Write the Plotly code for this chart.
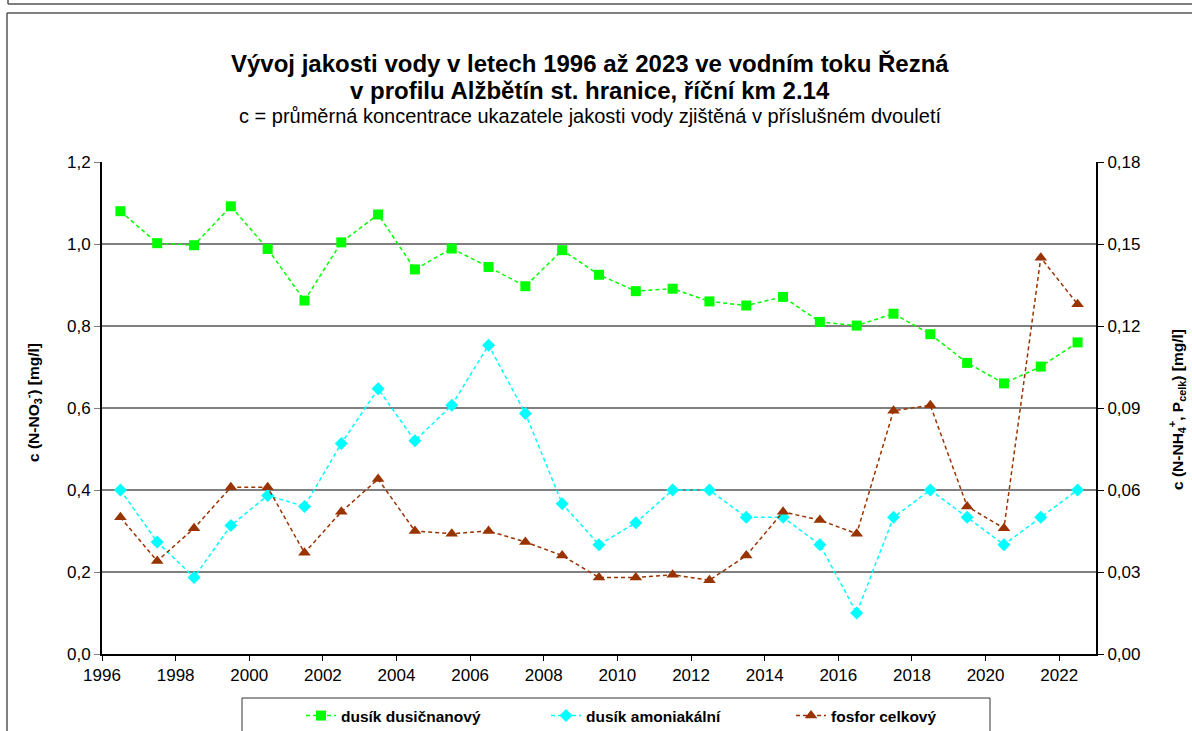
import plotly.graph_objects as go

years = [1996.5 + i for i in range(27)]

dusik_dusicnanovy = [1.080, 1.002, 0.997, 1.092, 0.988, 0.862, 1.004, 1.072, 0.938, 0.989,
                     0.944, 0.897, 0.985, 0.925, 0.885, 0.891, 0.860, 0.850, 0.871, 0.810,
                     0.801, 0.830, 0.780, 0.710, 0.660, 0.701, 0.760]
dusik_amoniakalni = [0.060, 0.041, 0.028, 0.047, 0.058, 0.054, 0.077, 0.097, 0.078, 0.091,
                     0.113, 0.088, 0.055, 0.040, 0.048, 0.060, 0.060, 0.050, 0.050, 0.040,
                     0.015, 0.050, 0.060, 0.050, 0.040, 0.050, 0.060]
fosfor_celkovy = [0.050, 0.034, 0.046, 0.061, 0.061, 0.037, 0.052, 0.064, 0.045, 0.044,
                  0.045, 0.041, 0.036, 0.028, 0.028, 0.029, 0.027, 0.036, 0.052, 0.049,
                  0.044, 0.089, 0.091, 0.054, 0.046, 0.145, 0.128]

FONT = "Liberation Sans, Arial, sans-serif"
W, H = 1192, 731
L, R, T, B = 102, 96, 162, 77
pw = W - L - R
ph = H - T - B


def px_x(px):
    return (px - L) / pw


def px_y(py):
    return (H - B - py) / ph


fig = go.Figure()
dash = "4px,3px"
fig.add_trace(go.Scatter(x=years, y=dusik_dusicnanovy, name="dusík dusičnanový", mode="lines+markers",
                         line=dict(color="#00FF00", width=1.5, dash=dash),
                         marker=dict(symbol="square", size=10, color="#00FF00")))
fig.add_trace(go.Scatter(x=years, y=dusik_amoniakalni, name="dusík amoniakální", mode="lines+markers",
                         yaxis="y2",
                         line=dict(color="#00FFFF", width=1.5, dash=dash),
                         marker=dict(symbol="diamond", size=10, color="#00FFFF")))
fig.add_trace(go.Scatter(x=years, y=fosfor_celkovy, name="fosfor celkový", mode="lines+markers",
                         yaxis="y2",
                         line=dict(color="#993300", width=1.5, dash=dash),
                         marker=dict(symbol="triangle-up", size=11, color="#993300")))

shapes = [
    # outer frames
    dict(type="line", xref="paper", yref="paper", x0=px_x(8), x1=px_x(1200), y0=px_y(4), y1=px_y(4),
         line=dict(color="#555555", width=1.5)),
    dict(type="line", xref="paper", yref="paper", x0=px_x(8), x1=px_x(8), y0=px_y(-5), y1=px_y(4),
         line=dict(color="#555555", width=1.5)),
    dict(type="line", xref="paper", yref="paper", x0=px_x(7), x1=px_x(1200), y0=px_y(13), y1=px_y(13),
         line=dict(color="#555555", width=1.5)),
    dict(type="line", xref="paper", yref="paper", x0=px_x(7), x1=px_x(7), y0=px_y(13), y1=px_y(740),
         line=dict(color="#555555", width=1.5)),
    # legend box
    dict(type="rect", xref="paper", yref="paper", x0=px_x(242), x1=px_x(990), y0=px_y(698), y1=px_y(745),
         line=dict(color="#333333", width=1)),
]

annotations = [
    dict(text="<b>Vývoj jakosti vody v letech 1996 až 2023 ve vodním toku Řezná</b>",
         x=px_x(590), y=px_y(64), xref="paper", yref="paper", showarrow=False,
         xanchor="center", yanchor="middle", font=dict(size=24, family=FONT, color="black")),
    dict(text="<b>v profilu Alžbětín st. hranice, říční km 2.14</b>",
         x=px_x(590), y=px_y(90), xref="paper", yref="paper", showarrow=False,
         xanchor="center", yanchor="middle", font=dict(size=24, family=FONT, color="black")),
    dict(text="c = průměrná koncentrace ukazatele jakosti vody zjištěná v příslušném dvouletí",
         x=px_x(590), y=px_y(116), xref="paper", yref="paper", showarrow=False,
         xanchor="center", yanchor="middle", font=dict(size=20, family=FONT, color="black")),
    dict(text="<b>c (N-NO<sub>3</sub><sup>-</sup>) [mg/l]</b>",
         x=px_x(33), y=px_y(403), xref="paper", yref="paper", showarrow=False, textangle=-90,
         xanchor="center", yanchor="middle", font=dict(size=15.5, family=FONT, color="black")),
    dict(text="<b>c (N-NH<sub>4</sub><sup>+</sup>, P<sub>celk</sub>) [mg/l]</b>",
         x=px_x(1177), y=px_y(410), xref="paper", yref="paper", showarrow=False, textangle=-90,
         xanchor="center", yanchor="middle", font=dict(size=15.5, family=FONT, color="black")),
]

fig.update_layout(
    width=W, height=H,
    margin=dict(l=L, r=R, t=T, b=B, pad=0, autoexpand=False),
    paper_bgcolor="white", plot_bgcolor="white",
    separators=", ",
    font=dict(family=FONT, color="black", size=17),
    showlegend=True,
    legend=dict(orientation="h", x=px_x(301), y=px_y(716), xanchor="left", yanchor="middle",
                entrywidth=200, entrywidthmode="pixels",
                font=dict(size=15.5, family=FONT, color="black", weight="bold"),
                bgcolor="rgba(0,0,0,0)", itemclick=False),
    xaxis=dict(range=[1996, 2023], tick0=1996, dtick=2, showgrid=False, zeroline=False,
               showline=True, linecolor="black", linewidth=1.5, ticks="outside", ticklen=5,
               tickcolor="black", tickfont=dict(size=17)),
    yaxis=dict(range=[0, 1.2], dtick=0.2, tickformat=".1f", showgrid=True, gridcolor="#808080",
               gridwidth=2, zeroline=False, showline=True, linecolor="black", linewidth=2,
               ticks="outside", ticklen=6, tickcolor="#808080", tickfont=dict(size=17)),
    yaxis2=dict(range=[0, 0.18], dtick=0.03, tickformat=".2f", overlaying="y", side="right",
                showgrid=False, zeroline=False, showline=True, linecolor="black", linewidth=2,
                ticks="outside", ticklen=6, tickcolor="black", tickfont=dict(size=17)),
    shapes=shapes,
    annotations=annotations,
)

fig.write_html("out.html", config={"displayModeBar": False},
               post_script="document.body.style.margin='0';")
